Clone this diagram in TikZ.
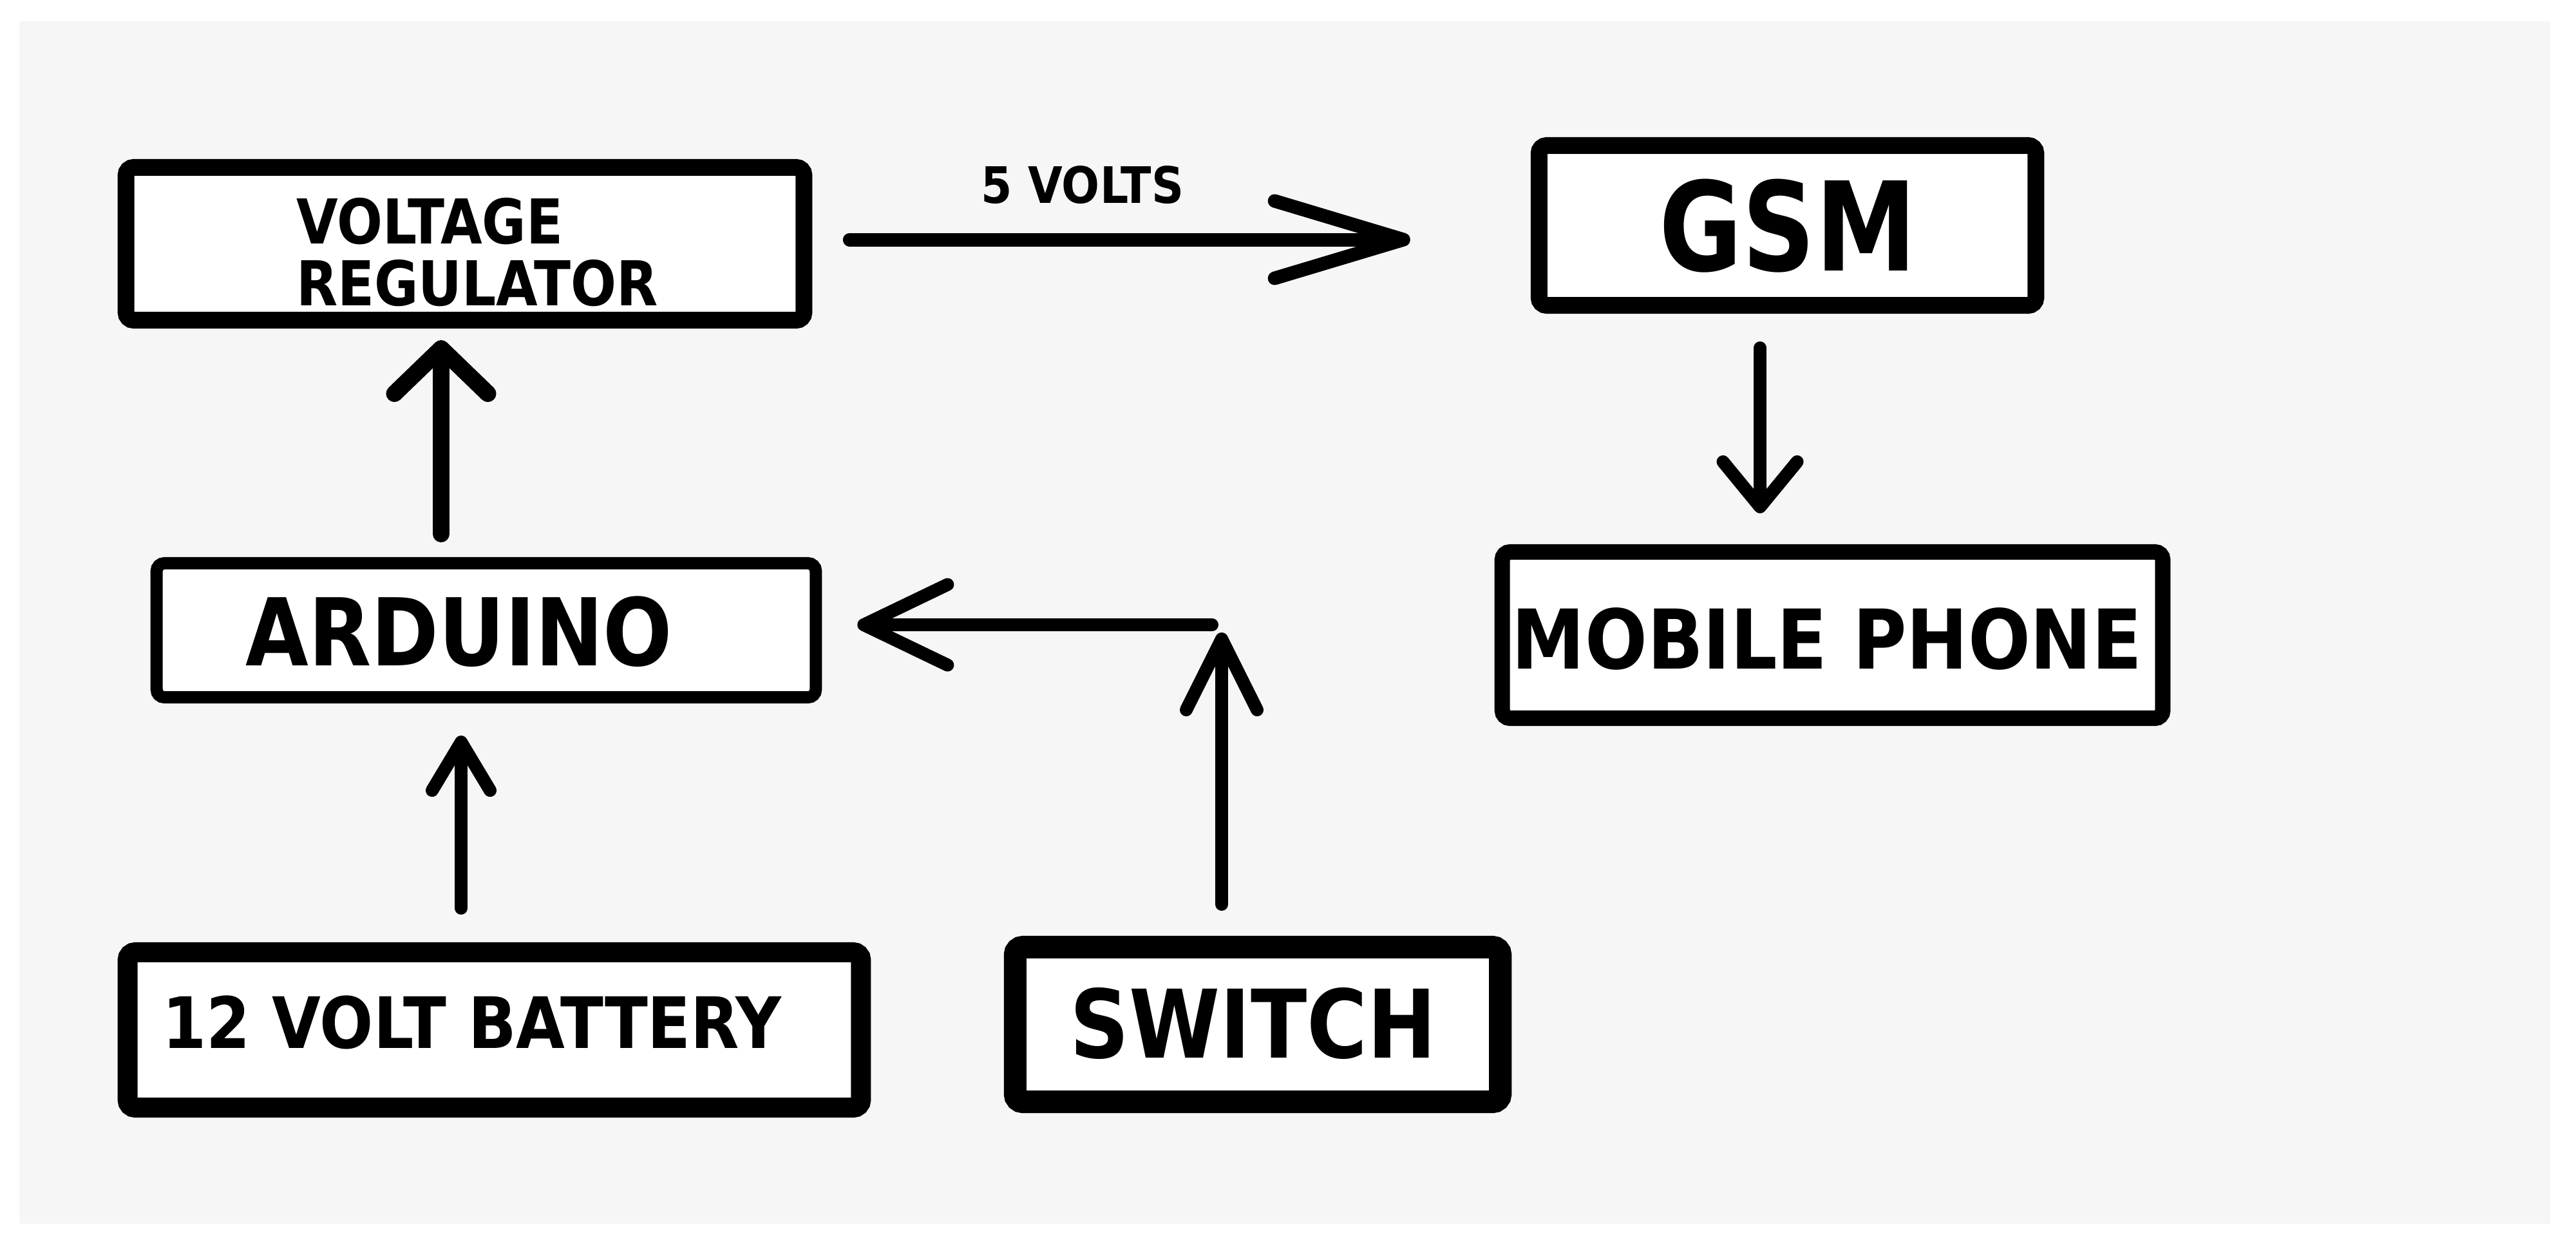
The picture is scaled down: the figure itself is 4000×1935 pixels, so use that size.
\documentclass[tikz,border=0pt]{standalone}
\usepackage{fontspec}
\newfontfamily\lblA[FakeStretch=0.87]{DejaVu Sans}
\newfontfamily\lblB[FakeStretch=0.89]{DejaVu Sans}
\newfontfamily\lblG[FakeStretch=0.82]{DejaVu Sans}
\newfontfamily\lblV[FakeStretch=0.89]{DejaVu Sans}
\usetikzlibrary{arrows.meta,calc}
\definecolor{bggray}{HTML}{F6F6F6}
\tikzset{
  blk/.style={draw=black, fill=white, rounded corners=0.12cm, inner sep=0pt, outer sep=0pt},
  lbl/.style={inner sep=0pt, outer sep=0pt, text=black},
  conn/.style={draw=black, line cap=round},
  head/.style 2 args={-{Straight Barb[round, length=#1, width=#2]}}
}
\begin{document}
\begin{tikzpicture}[x=0.01cm, y=-0.01cm]
\useasboundingbox (0,0) rectangle (4000,1935);
\fill[bggray] (30,33) rectangle (3960,1900);

% boxes
\node[blk, line width=0.26cm, minimum width=10.52cm, minimum height=2.37cm] (vr) at (722,378.5) {};
\node[blk, line width=0.26cm, minimum width=7.71cm, minimum height=2.48cm] (gsm) at (2775.5,350) {};
\node[blk, line width=0.19cm, minimum width=10.23cm, minimum height=2.08cm] (ard) at (755,978.5) {};
\node[blk, line width=0.24cm, minimum width=10.25cm, minimum height=2.58cm] (mob) at (2845.5,986) {};
\node[blk, line width=0.31cm, minimum width=11.38cm, minimum height=2.41cm] (bat) at (767.5,1599) {};
\node[blk, line width=0.35cm, minimum width=7.53cm, minimum height=2.40cm] (sw) at (1953,1590.5) {};

% texts
\node[lbl, font=\lblA\bfseries\fontsize{27.3}{27.3}\selectfont, align=left, anchor=north west] (vrt) at (460,307) {VOLTAGE\\REGULATOR};
\node[lbl, font=\lblG\bfseries\fontsize{54.6}{54.6}\selectfont, anchor=base] (gsmt) at (2776,420) {GSM};
\node[lbl, font=\lblA\bfseries\fontsize{41.3}{41.3}\selectfont, anchor=base] (ardt) at (713,1033) {ARDUINO};
\node[lbl, font=\lblB\bfseries\fontsize{36.4}{36.4}\selectfont, anchor=base] (mobt) at (2837,1038) {MOBILE PHONE};
\node[lbl, font=\lblB\bfseries\fontsize{31.3}{31.3}\selectfont, anchor=base] (batt) at (733,1627) {12 VOLT BATTERY};
\node[lbl, font=\lblA\bfseries\fontsize{41.8}{41.8}\selectfont, anchor=base] (swt) at (1946,1642) {SWITCH};
\node[lbl, font=\lblV\bfseries\fontsize{22.2}{22.2}\selectfont, anchor=base] (vlt) at (1681,315) {5 VOLTS};

% free ends
\coordinate (swtip) at (1897,982);
\coordinate (turn) at (1882,970);

% connectors
\draw[conn, line width=0.21cm, head={2.0cm}{1.2cm}] ($(vr.east)+(71,-6.5)$) -- ($(gsm.west)+(-200,22)$);
\draw[conn, line width=0.2cm, head={0.7cm}{1.15cm}] ($(gsm.south)+(-42.5,66)$) -- ($(mob.north)+(-112.5,-60)$);
\draw[conn, line width=0.26cm, head={0.7cm}{1.45cm}] ($(ard.north)+(-70,-45.5)$) -- ($(vr.south)+(-37,31)$);
\draw[conn, line width=0.2cm, head={0.75cm}{0.9cm}] ($(bat.north)+(-51.5,-68.5)$) -- ($(ard.south)+(-39,59.5)$);
\draw[conn, line width=0.2cm, head={1.1cm}{1.1cm}] ($(sw.north)+(-56,-66.5)$) -- (swtip);
\draw[conn, line width=0.2cm, head={1.3cm}{1.25cm}] (turn) -- ($(ard.east)+(64.5,-8.5)$);
\end{tikzpicture}
\end{document}
